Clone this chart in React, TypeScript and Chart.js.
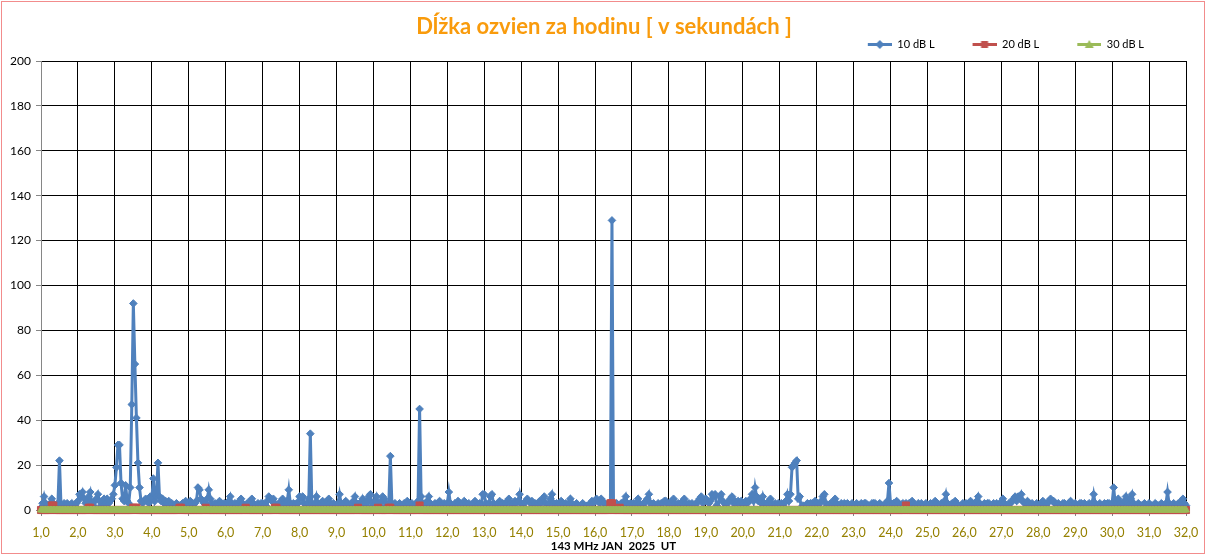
import React, { useEffect, useRef } from 'react';
import { Chart, registerables } from 'chart.js';

Chart.register(...registerables);
Chart.defaults.font.family = 'Lato, "Noto Sans", sans-serif';

const TITLE = 'Dĺžka ozvien za hodinu [ v sekundách ]';
const X_TITLE = '143 MHz JAN  2025  UT';
const SERIES_NAMES = ['10 dB L', '20 dB L', '30 dB L'];
const DAY_LABELS = [
  '1,0', '2,0', '3,0', '4,0', '5,0', '6,0', '7,0', '8,0', '9,0', '10,0', '11,0',
  '12,0', '13,0', '14,0', '15,0', '16,0', '17,0', '18,0', '19,0', '20,0', '21,0',
  '22,0', '23,0', '24,0', '25,0', '26,0', '27,0', '28,0', '29,0', '30,0', '31,0', '32,0',
];
const Y_MIN = 0;
const Y_MAX = 200;
const Y_STEP = 20;

// hourly values, one row per day (24 hours), last entry = 32,0
const s10: number[] = [
  1, 3, 6, 3, 2, 2, 3, 5, 3, 2, 2, 3, 22, 2, 2, 3, 2, 3, 2, 2, 3, 2, 2, 3,
  4, 7, 6, 8, 5, 3, 4, 6, 8, 3, 2, 4, 5, 7, 4, 2, 3, 5, 3, 5, 3, 4, 5, 7,
  11, 19, 29, 29, 12, 5, 4, 11, 4, 3, 10, 47, 92, 65, 41, 21, 10, 4, 3, 4, 5, 4, 3, 6,
  5, 14, 4, 6, 21, 6, 4, 5, 3, 4, 3, 4, 2, 3, 2, 2, 3, 2, 2, 2, 3, 2, 4, 3,
  2, 4, 3, 2, 3, 4, 10, 9, 5, 4, 3, 3, 5, 9, 5, 3, 2, 3, 2, 3, 4, 3, 2, 3,
  2, 3, 4, 6, 3, 2, 3, 2, 3, 4, 5, 3, 2, 2, 3, 2, 4, 5, 3, 2, 2, 3, 2, 3,
  3, 2, 2, 4, 6, 5, 4, 5, 3, 2, 2, 3, 4, 5, 3, 2, 4, 9, 3, 2, 3, 2, 3, 3,
  6, 5, 6, 3, 2, 3, 5, 34, 3, 2, 3, 6, 3, 2, 3, 4, 3, 2, 4, 5, 3, 2, 3, 2,
  2, 3, 7, 3, 2, 3, 4, 3, 2, 2, 3, 4, 6, 3, 2, 3, 2, 5, 3, 2, 4, 6, 7, 3,
  2, 4, 6, 3, 2, 4, 6, 5, 3, 2, 3, 24, 3, 2, 3, 2, 2, 3, 2, 2, 3, 2, 4, 3,
  2, 3, 2, 2, 3, 4, 45, 6, 3, 2, 3, 4, 6, 3, 2, 2, 3, 2, 3, 4, 2, 2, 3, 2,
  3, 8, 3, 2, 2, 3, 2, 4, 3, 2, 3, 4, 3, 2, 3, 2, 2, 3, 4, 2, 2, 3, 2, 7,
  7, 3, 2, 3, 6, 7, 3, 2, 2, 3, 4, 2, 3, 2, 3, 4, 5, 3, 2, 3, 4, 3, 4, 7,
  3, 2, 3, 4, 5, 4, 3, 4, 2, 3, 2, 3, 4, 3, 5, 6, 3, 2, 3, 5, 7, 3, 2, 3,
  2, 3, 4, 3, 2, 3, 2, 3, 5, 3, 2, 2, 3, 2, 1, 2, 3, 2, 1, 2, 2, 3, 4, 3,
  4, 5, 4, 3, 5, 4, 3, 2, 2, 3, 3, 129, 2, 2, 3, 2, 2, 3, 2, 4, 6, 3, 2, 3,
  2, 3, 2, 3, 5, 3, 2, 2, 3, 4, 5, 7, 3, 2, 3, 2, 2, 3, 2, 3, 3, 4, 4, 3,
  2, 3, 4, 5, 3, 2, 3, 2, 3, 4, 5, 3, 2, 3, 2, 3, 2, 2, 3, 4, 5, 6, 3, 4,
  5, 4, 3, 4, 7, 6, 7, 2, 1, 6, 7, 4, 3, 2, 3, 4, 5, 6, 3, 4, 3, 4, 3, 4,
  3, 2, 4, 3, 4, 5, 7, 4, 10, 6, 4, 5, 3, 6, 3, 2, 3, 4, 5, 3, 2, 3, 2, 3,
  2, 3, 2, 3, 4, 7, 4, 7, 19, 20, 21, 22, 5, 6, 1, 2, 1, 2, 3, 2, 3, 3, 2, 4,
  3, 2, 3, 4, 6, 7, 3, 2, 2, 3, 2, 4, 5, 3, 2, 2, 3, 2, 3, 2, 3, 2, 2, 3,
  2, 2, 3, 2, 2, 3, 2, 3, 3, 2, 2, 2, 3, 3, 3, 2, 2, 3, 2, 2, 2, 3, 4, 12,
  3, 2, 3, 3, 4, 3, 2, 2, 3, 2, 3, 2, 3, 3, 4, 3, 2, 2, 3, 2, 3, 2, 2, 3,
  2, 2, 3, 2, 3, 4, 3, 2, 2, 3, 2, 4, 7, 3, 2, 2, 3, 2, 4, 3, 2, 1, 2, 3,
  2, 3, 2, 3, 4, 3, 2, 3, 4, 6, 3, 2, 2, 3, 2, 3, 3, 2, 2, 3, 2, 3, 2, 3,
  3, 5, 3, 2, 2, 3, 3, 4, 5, 6, 4, 6, 5, 7, 4, 3, 3, 4, 3, 2, 3, 2, 2, 3,
  2, 2, 3, 4, 3, 2, 3, 4, 5, 4, 4, 3, 2, 3, 2, 2, 3, 3, 2, 2, 3, 4, 2, 2,
  3, 2, 2, 3, 3, 2, 3, 2, 2, 3, 2, 3, 7, 3, 2, 2, 3, 2, 2, 3, 2, 3, 3, 2,
  3, 10, 3, 3, 5, 3, 2, 3, 4, 6, 3, 2, 5, 7, 3, 2, 2, 3, 2, 2, 2, 3, 2, 2,
  3, 2, 2, 2, 3, 2, 2, 2, 3, 2, 2, 3, 8, 3, 2, 2, 3, 2, 2, 3, 2, 4, 5, 3,
  2,
];

const s20: number[] = [
  0, 0, 0, 0, 0, 0, 0, 2, 2, 0, 0, 0, 0, 0, 0, 0, 0, 0, 0, 0, 0, 0, 0, 0,
  0, 0, 0, 0, 0, 0, 0, 1, 1, 0, 0, 0, 0, 0, 0, 0, 0, 0, 0, 0, 0, 0, 0, 0,
  0, 0, 0, 0, 0, 0, 0, 0, 0, 0, 0, 0, 1, 1, 1, 0, 0, 0, 0, 0, 0, 0, 0, 0,
  0, 0, 0, 0, 0, 0, 0, 0, 0, 0, 0, 0, 0, 0, 0, 0, 0, 0, 1, 1, 0, 0, 0, 0,
  0, 0, 0, 0, 0, 0, 0, 0, 0, 0, 0, 1, 0, 0, 0, 0, 0, 0, 0, 0, 0, 0, 0, 0,
  0, 0, 0, 0, 0, 0, 0, 0, 0, 0, 0, 0, 0, 1, 0, 0, 0, 0, 0, 0, 0, 0, 0, 0,
  0, 0, 0, 0, 0, 0, 0, 0, 1, 1, 0, 0, 0, 0, 0, 0, 0, 0, 0, 0, 0, 0, 0, 0,
  0, 0, 0, 0, 0, 0, 0, 0, 0, 0, 0, 0, 0, 0, 0, 0, 0, 0, 0, 0, 0, 0, 0, 0,
  0, 0, 0, 0, 0, 0, 0, 0, 0, 0, 0, 0, 0, 0, 1, 0, 0, 0, 0, 0, 0, 0, 0, 0,
  0, 0, 0, 1, 0, 0, 0, 0, 0, 0, 1, 1, 0, 0, 0, 0, 0, 0, 0, 0, 0, 0, 0, 0,
  0, 0, 0, 0, 0, 0, 2, 0, 0, 0, 0, 0, 0, 0, 0, 0, 0, 0, 0, 0, 0, 0, 0, 0,
  0, 0, 0, 0, 0, 0, 0, 0, 0, 0, 0, 0, 0, 0, 0, 0, 0, 0, 0, 0, 0, 0, 0, 0,
  0, 0, 0, 0, 0, 0, 0, 0, 0, 0, 0, 0, 0, 0, 0, 0, 0, 0, 0, 0, 0, 0, 0, 0,
  0, 0, 0, 0, 0, 0, 0, 0, 0, 0, 0, 0, 0, 0, 0, 0, 0, 0, 0, 0, 0, 0, 0, 0,
  0, 0, 0, 0, 0, 0, 0, 0, 0, 0, 0, 0, 0, 0, 0, 0, 0, 0, 0, 0, 0, 0, 0, 0,
  0, 0, 0, 0, 0, 0, 0, 0, 0, 0, 3, 3, 0, 0, 0, 0, 1, 0, 0, 0, 0, 0, 0, 0,
  0, 0, 0, 0, 0, 0, 0, 0, 0, 0, 0, 0, 0, 0, 0, 0, 0, 0, 0, 0, 0, 0, 0, 0,
  0, 0, 0, 0, 0, 0, 0, 0, 0, 0, 0, 0, 0, 0, 0, 0, 0, 0, 0, 0, 0, 0, 0, 0,
  0, 0, 0, 0, 0, 0, 0, 0, 0, 0, 0, 0, 0, 0, 0, 0, 0, 0, 0, 0, 0, 0, 0, 0,
  0, 0, 0, 0, 0, 0, 0, 0, 0, 0, 0, 0, 0, 0, 0, 0, 0, 0, 0, 0, 0, 0, 0, 0,
  0, 0, 0, 0, 0, 0, 0, 0, 0, 0, 0, 0, 0, 0, 0, 0, 0, 0, 0, 0, 0, 0, 0, 0,
  0, 0, 0, 0, 0, 0, 0, 0, 0, 0, 0, 0, 0, 0, 0, 0, 0, 0, 0, 0, 0, 0, 0, 0,
  0, 0, 0, 0, 0, 0, 0, 0, 0, 0, 0, 0, 0, 0, 0, 0, 0, 0, 0, 0, 0, 0, 0, 0,
  0, 0, 0, 0, 0, 0, 0, 0, 0, 0, 2, 0, 0, 0, 0, 0, 0, 0, 0, 0, 0, 0, 0, 0,
  0, 0, 0, 0, 0, 0, 0, 0, 0, 0, 0, 0, 0, 0, 0, 0, 0, 0, 0, 0, 0, 0, 0, 0,
  0, 0, 0, 0, 0, 0, 0, 0, 0, 0, 0, 0, 0, 0, 0, 0, 0, 0, 0, 0, 0, 0, 0, 0,
  0, 0, 0, 0, 0, 0, 0, 0, 0, 0, 0, 0, 0, 0, 0, 0, 0, 0, 0, 0, 0, 0, 0, 0,
  0, 0, 0, 0, 0, 0, 0, 0, 0, 0, 0, 0, 0, 0, 0, 0, 0, 0, 0, 0, 0, 0, 0, 0,
  0, 0, 0, 0, 0, 0, 0, 0, 0, 0, 0, 0, 0, 0, 0, 0, 0, 0, 0, 0, 0, 0, 0, 0,
  0, 0, 0, 0, 0, 0, 0, 0, 0, 0, 0, 0, 0, 0, 0, 0, 0, 0, 0, 0, 0, 0, 0, 0,
  0, 0, 0, 0, 0, 0, 0, 0, 0, 0, 0, 0, 0, 0, 0, 0, 0, 0, 0, 0, 0, 0, 0, 0,
  0,
];

const s30: number[] = [
  0, 0, 0, 0, 0, 0, 0, 0, 0, 0, 0, 0, 0, 0, 0, 0, 0, 0, 0, 0, 0, 0, 0, 0,
  0, 0, 0, 0, 0, 0, 0, 0, 0, 0, 0, 0, 0, 0, 0, 0, 0, 0, 0, 0, 0, 0, 0, 0,
  0, 0, 0, 0, 0, 0, 0, 0, 0, 0, 0, 0, 0, 0, 0, 0, 0, 0, 0, 0, 0, 0, 0, 0,
  0, 0, 0, 0, 0, 0, 0, 0, 0, 0, 0, 0, 0, 0, 0, 0, 0, 0, 0, 0, 0, 0, 0, 0,
  0, 0, 0, 0, 0, 0, 0, 0, 0, 0, 0, 0, 0, 0, 0, 0, 0, 0, 0, 0, 0, 0, 0, 0,
  0, 0, 0, 0, 0, 0, 0, 0, 0, 0, 0, 0, 0, 0, 0, 0, 0, 0, 0, 0, 0, 0, 0, 0,
  0, 0, 0, 0, 0, 0, 0, 0, 0, 0, 0, 0, 0, 0, 0, 0, 0, 0, 0, 0, 0, 0, 0, 0,
  0, 0, 0, 0, 0, 0, 0, 0, 0, 0, 0, 0, 0, 0, 0, 0, 0, 0, 0, 0, 0, 0, 0, 0,
  0, 0, 0, 0, 0, 0, 0, 0, 0, 0, 0, 0, 0, 0, 0, 0, 0, 0, 0, 0, 0, 0, 0, 0,
  0, 0, 0, 0, 0, 0, 0, 0, 0, 0, 0, 0, 0, 0, 0, 0, 0, 0, 0, 0, 0, 0, 0, 0,
  0, 0, 0, 0, 0, 0, 0, 0, 0, 0, 0, 0, 0, 0, 0, 0, 0, 0, 0, 0, 0, 0, 0, 0,
  0, 0, 0, 0, 0, 0, 0, 0, 0, 0, 0, 0, 0, 0, 0, 0, 0, 0, 0, 0, 0, 0, 0, 0,
  0, 0, 0, 0, 0, 0, 0, 0, 0, 0, 0, 0, 0, 0, 0, 0, 0, 0, 0, 0, 0, 0, 0, 0,
  0, 0, 0, 0, 0, 0, 0, 0, 0, 0, 0, 0, 0, 0, 0, 0, 0, 0, 0, 0, 0, 0, 0, 0,
  0, 0, 0, 0, 0, 0, 0, 0, 0, 0, 0, 0, 0, 0, 0, 0, 0, 0, 0, 0, 0, 0, 0, 0,
  0, 0, 0, 0, 0, 0, 0, 0, 0, 0, 0, 0, 0, 0, 0, 0, 0, 0, 0, 0, 0, 0, 0, 0,
  0, 0, 0, 0, 0, 0, 0, 0, 0, 0, 0, 0, 0, 0, 0, 0, 0, 0, 0, 0, 0, 0, 0, 0,
  0, 0, 0, 0, 0, 0, 0, 0, 0, 0, 0, 0, 0, 0, 0, 0, 0, 0, 0, 0, 0, 0, 0, 0,
  0, 0, 0, 0, 0, 0, 0, 0, 0, 0, 0, 0, 0, 0, 0, 0, 0, 0, 0, 0, 0, 0, 0, 0,
  0, 0, 0, 0, 0, 0, 0, 0, 0, 0, 0, 0, 0, 0, 0, 0, 0, 0, 0, 0, 0, 0, 0, 0,
  0, 0, 0, 0, 0, 0, 0, 0, 0, 0, 0, 0, 0, 0, 0, 0, 0, 0, 0, 0, 0, 0, 0, 0,
  0, 0, 0, 0, 0, 0, 0, 0, 0, 0, 0, 0, 0, 0, 0, 0, 0, 0, 0, 0, 0, 0, 0, 0,
  0, 0, 0, 0, 0, 0, 0, 0, 0, 0, 0, 0, 0, 0, 0, 0, 0, 0, 0, 0, 0, 0, 0, 0,
  0, 0, 0, 0, 0, 0, 0, 0, 0, 0, 0, 0, 0, 0, 0, 0, 0, 0, 0, 0, 0, 0, 0, 0,
  0, 0, 0, 0, 0, 0, 0, 0, 0, 0, 0, 0, 0, 0, 0, 0, 0, 0, 0, 0, 0, 0, 0, 0,
  0, 0, 0, 0, 0, 0, 0, 0, 0, 0, 0, 0, 0, 0, 0, 0, 0, 0, 0, 0, 0, 0, 0, 0,
  0, 0, 0, 0, 0, 0, 0, 0, 0, 0, 0, 0, 0, 0, 0, 0, 0, 0, 0, 0, 0, 0, 0, 0,
  0, 0, 0, 0, 0, 0, 0, 0, 0, 0, 0, 0, 0, 0, 0, 0, 0, 0, 0, 0, 0, 0, 0, 0,
  0, 0, 0, 0, 0, 0, 0, 0, 0, 0, 0, 0, 0, 0, 0, 0, 0, 0, 0, 0, 0, 0, 0, 0,
  0, 0, 0, 0, 0, 0, 0, 0, 0, 0, 0, 0, 0, 0, 0, 0, 0, 0, 0, 0, 0, 0, 0, 0,
  0, 0, 0, 0, 0, 0, 0, 0, 0, 0, 0, 0, 0, 0, 0, 0, 0, 0, 0, 0, 0, 0, 0, 0,
  0,
];

// category values: day + hour/24
const hourX: number[] = s10.map((_, i) => 1 + i / 24);

const BLUE = '#4F81BD';
const RED = '#C0504D';
const GREEN = '#9BBB59';
const ORANGE = '#F99B0C';
const OLIVE = '#958000';
const AXIS_GRAY = '#868686';

const W = 1208;
const H = 556;

function makeIcon(color: string, kind: 'diamond' | 'square' | 'triangle'): HTMLCanvasElement {
  const c = document.createElement('canvas');
  const gap = 36;
  c.width = gap + 24;
  c.height = 11;
  const ctx = c.getContext('2d')!;
  ctx.strokeStyle = color;
  ctx.fillStyle = color;
  ctx.lineWidth = 3;
  ctx.beginPath();
  ctx.moveTo(gap, 5.5);
  ctx.lineTo(gap + 24, 5.5);
  ctx.stroke();
  const cx = gap + 12;
  const cy = 5.5;
  ctx.beginPath();
  if (kind === 'diamond') {
    ctx.moveTo(cx, cy - 4.5);
    ctx.lineTo(cx + 4.5, cy);
    ctx.lineTo(cx, cy + 4.5);
    ctx.lineTo(cx - 4.5, cy);
  } else if (kind === 'square') {
    ctx.rect(cx - 3.5, cy - 3.5, 7, 7);
  } else {
    ctx.moveTo(cx, cy - 4.5);
    ctx.lineTo(cx + 4.5, cy + 3.5);
    ctx.lineTo(cx - 4.5, cy + 3.5);
  }
  ctx.closePath();
  ctx.fill();
  return c;
}

const frame = {
  id: 'frame',
  beforeDraw(chart: any) {
    const ctx = chart.ctx;
    ctx.save();
    ctx.fillStyle = '#ffffff';
    ctx.fillRect(0, 0, chart.width, chart.height);
    ctx.restore();
  },
  afterDraw(chart: any) {
    const ctx = chart.ctx;
    ctx.save();
    ctx.strokeStyle = '#F28C8C';
    ctx.lineWidth = 1;
    ctx.strokeRect(1.5, 1.5, 1203, 552);
    ctx.restore();
  },
};

const legendShift = {
  id: 'legendShift',
  afterLayout(chart: any) {
    if (chart.legend) {
      chart.legend.right = 1146;
      chart.legend.top -= 1;
    }
  },
};

export default function App() {
  const ref = useRef<HTMLCanvasElement | null>(null);

  useEffect(() => {
    if (!ref.current) return;
    const icons = [
      makeIcon(BLUE, 'diamond'),
      makeIcon(RED, 'square'),
      makeIcon(GREEN, 'triangle'),
    ];
    const toPts = (arr: number[]) => arr.map((y, i) => ({ x: hourX[i], y }));
    const chart = new Chart(ref.current, {
      type: 'line',
      data: {
        datasets: [
          {
            label: SERIES_NAMES[0],
            data: toPts(s10),
            borderColor: BLUE,
            backgroundColor: BLUE,
            borderWidth: 3,
            pointStyle: 'rectRot',
            pointRadius: 3.8,
            pointBorderWidth: 1,
            pointBackgroundColor: BLUE,
            pointBorderColor: BLUE,
            tension: 0,
            clip: false,
            order: 3,
          },
          {
            label: SERIES_NAMES[1],
            data: toPts(s20),
            borderColor: RED,
            backgroundColor: RED,
            borderWidth: 3,
            pointStyle: 'rect',
            pointRadius: 5,
            pointBorderWidth: 1,
            pointBackgroundColor: RED,
            pointBorderColor: RED,
            tension: 0,
            clip: false,
            order: 2,
          },
          {
            label: SERIES_NAMES[2],
            data: toPts(s30),
            borderColor: GREEN,
            backgroundColor: GREEN,
            borderWidth: 3,
            pointStyle: 'triangle',
            pointRadius: 4,
            pointBorderWidth: 1,
            pointBackgroundColor: GREEN,
            pointBorderColor: GREEN,
            tension: 0,
            clip: false,
            order: 1,
          },
        ] as any,
      },
      options: {
        animation: false,
        responsive: false,
        events: [],
        layout: { padding: 0 },
        plugins: {
          title: {
            display: true,
            text: TITLE,
            color: ORANGE,
            font: { family: 'Lato', size: 22, weight: 'bold', lineHeight: 1.0 },
            padding: { top: 16, bottom: 0 },
          },
          legend: {
            display: true,
            position: 'top',
            align: 'end',
            fullSize: false,
            labels: {
              usePointStyle: true,
              pointStyleWidth: 60,
              padding: 2,
              color: '#000',
              font: { family: 'Lato', size: 11 },
              sort: (a: any, b: any) => a.datasetIndex - b.datasetIndex,
              generateLabels: (ch: any) => {
                const items = (Chart as any).defaults.plugins.legend.labels.generateLabels(ch);
                return items.map((it: any) => ({ ...it, pointStyle: icons[it.datasetIndex], lineWidth: 0 }));
              },
            },
          },
          tooltip: { enabled: false },
        },
        scales: {
          x: {
            type: 'linear',
            min: 1,
            max: 32,
            afterFit: (s: any) => { s.height = 46; },
            ticks: {
              stepSize: 1,
              autoSkip: false,
              maxRotation: 0,
              color: OLIVE,
              font: { family: 'Lato', size: 12.5 },
              padding: 9,
              callback: (v: any) => DAY_LABELS[Math.round(Number(v)) - 1] ?? '',
            },
            grid: { color: '#000000', lineWidth: 1, tickLength: 6, tickColor: AXIS_GRAY },
            border: { color: AXIS_GRAY, width: 1 },
            title: {
              display: true,
              text: X_TITLE,
              color: '#000',
              font: { family: 'Lato', size: 11.5, weight: 'bold', lineHeight: 1.2 },
              padding: { top: 0, bottom: 3 },
            },
          },
          y: {
            min: Y_MIN,
            max: Y_MAX,
            afterFit: (s: any) => { s.width = 41; },
            ticks: {
              stepSize: Y_STEP,
              color: '#000',
              font: { family: 'Lato', size: 12 },
              padding: 5,
            },
            grid: { color: '#000000', lineWidth: 1, tickLength: 5, tickColor: AXIS_GRAY },
            border: { color: AXIS_GRAY, width: 1 },
          },
          yR: {
            position: 'right',
            display: true,
            afterFit: (s: any) => { s.width = 22; },
            grid: { display: false, drawTicks: false },
            ticks: { display: false },
            border: { display: false },
          },
        },
      } as any,
      plugins: [frame, legendShift],
    });
    return () => chart.destroy();
  }, []);

  return (
    <div style={{ position: 'fixed', left: 0, top: 0, width: W, height: H, background: '#fff' }}>
      <canvas ref={ref} width={W} height={H} style={{ display: 'block', width: W, height: H }} />
    </div>
  );
}
